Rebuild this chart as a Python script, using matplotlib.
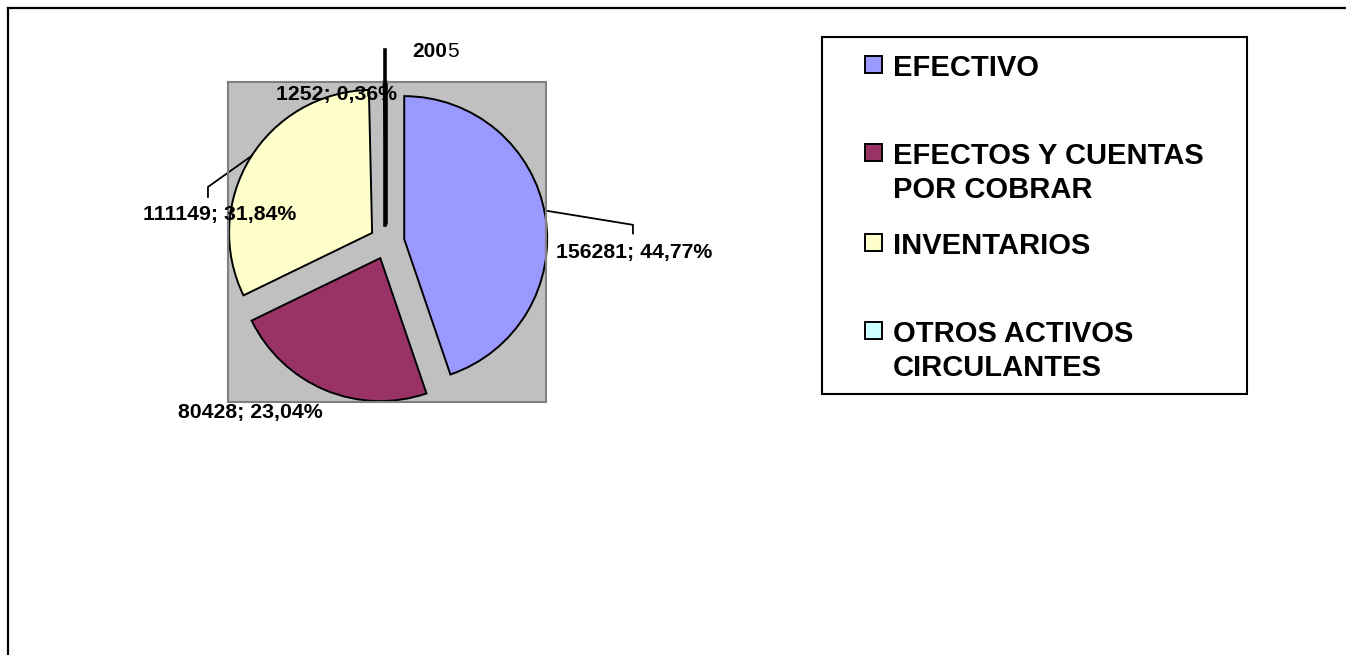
import numpy as np
import matplotlib
matplotlib.use("Agg")
import matplotlib.pyplot as plt
from matplotlib.lines import Line2D
from matplotlib.patches import Rectangle

plt.rcParams['font.family'] = ['Liberation Sans', 'DejaVu Sans']

# ---- data ----
categories = ["EFECTIVO", "EFECTOS Y CUENTAS\nPOR COBRAR", "INVENTARIOS",
              "OTROS ACTIVOS\nCIRCULANTES"]
values = [156281, 80428, 111149, 1252]
colors = ["#9999FF", "#993366", "#FFFFCC", "#CCFFFF"]
title_bold = "200"
title_plain = "5"

W, H = 1346, 655
fig = plt.figure(figsize=(W / 100, H / 100), dpi=100)
fig.patch.set_facecolor("white")

def fx(x):
    return x / W

def fy(y):
    return 1 - y / H

# outer chart border (top and left visible)
fig.add_artist(Line2D([fx(8), fx(W)], [fy(8), fy(8)], color="black", lw=1.6))
fig.add_artist(Line2D([fx(8), fx(8)], [fy(8), fy(H)], color="black", lw=1.6))

# plot area
ax = fig.add_axes([fx(228), fy(402), (546 - 228) / W, (402 - 82) / H])
R = 143.0  # pixels per data unit
cx, cy = 387, 242
total = sum(values)
explode = [0.122] * len(values)
wedges, _ = ax.pie(values, colors=colors, startangle=90, counterclock=False,
                   explode=explode, radius=1.0,
                   wedgeprops=dict(edgecolor="black", linewidth=1.4))
for w in wedges:
    w.set_clip_on(False)
ax.set_aspect("auto")
ax.set_xlim(-(cx - 228) / R, (546 - cx) / R)
ax.set_ylim(-(402 - cy) / R, (cy - 82) / R)
ax.set_frame_on(True)
ax.set_facecolor("#C0C0C0")
for s in ax.spines.values():
    s.set_color("#808080")
    s.set_linewidth(1.5)
ax.set_xticks([])
ax.set_yticks([])

labels = [f"{v}; {v / total * 100:.2f}%".replace(".", ",") for v in values]
label_pos = [(1.730, -0.070), (-0.958, -1.189), (-1.168, 0.189), (-0.350, 1.028)]
for lab, (lx, ly) in zip(labels, label_pos):
    ax.text(lx, ly, lab, ha="center", va="center", fontsize=15.3,
            fontweight="bold", clip_on=False, zorder=5)

def arc_point(w, ang):
    c = w.center
    return c[0] + w.r * np.cos(np.radians(ang)), c[1] + w.r * np.sin(np.radians(ang))

# leader EFECTIVO
a0 = arc_point(wedges[0], 11.6)
lx, ly = label_pos[0]
ax.add_line(Line2D([a0[0], lx - 0.01, lx - 0.01],
                   [a0[1], ly + 0.19, ly + 0.13], color="black", lw=1.3,
                   clip_on=False))
# leader INVENTARIOS
ap = arc_point(wedges[2], 147.4)
lx, ly = label_pos[2]
ax.add_line(Line2D([lx - 0.084, lx - 0.084, ap[0]],
                   [ly + 0.126, ly + 0.196, ap[1]], color="black", lw=1.3,
                   clip_on=False))
# OTROS slice drawn as thick stroke with vertical leader above it
w3 = wedges[3]
mid = (w3.theta1 + w3.theta2) / 2
top = arc_point(w3, mid)
ax.add_line(Line2D([top[0], top[0]], [w3.center[1], (cy - 50) / R],
                   color="black", lw=2.6, clip_on=False, zorder=4))

# title
fig.text(fx(447.5), fy(57), title_bold, ha="right", va="baseline",
         fontsize=15, fontweight="bold")
fig.text(fx(447.5), fy(57), title_plain, ha="left", va="baseline",
         fontsize=15)

# legend (manual, Excel-like)
fig.add_artist(Rectangle((fx(822), fy(394)), (1247 - 822) / W, (394 - 37) / H,
                         transform=fig.transFigure, facecolor="white",
                         edgecolor="black", lw=1.5))
entry_top = [55, 143, 233, 321]
for lab, col, yt in zip(categories, colors, entry_top):
    fig.add_artist(Rectangle((fx(865), fy(yt + 18)), 17 / W, 17 / H,
                             transform=fig.transFigure, facecolor=col,
                             edgecolor="black", lw=1.4))
    fig.text(fx(893), fy(yt - 0.5), lab, ha="left", va="top", fontsize=21,
             fontweight="bold", linespacing=1.25)

fig.savefig("out.png", dpi=100)
